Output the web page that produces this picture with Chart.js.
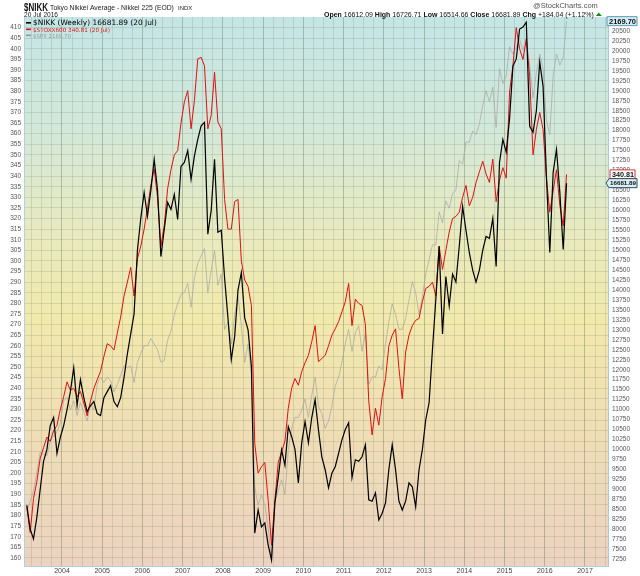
<!DOCTYPE html>
<html>
<head>
<meta charset="utf-8">
<script src="https://cdn.jsdelivr.net/npm/chart.js@4.4.0/dist/chart.umd.min.js"></script>
<style>
html, body { margin: 0; padding: 0; background: #fff; }
#wrap { width: 640px; height: 576px; position: relative; }
</style>
</head>
<body>
<div id="wrap"><canvas id="chart" width="640" height="576"></canvas></div>
<script>
// Monthly samples, first month is Feb 2003, last is Jul 2016
const startYear = 2003;
const startMonth = 2;

const nikk = [
  8600, 8000, 7750, 8300, 9000, 9700, 10000, 10600, 10800, 9900, 10300,
  10600, 11000, 11450, 12050, 11100, 11750, 11300, 10950, 11100, 11200, 10900, 10850,
  11300, 11450, 11600, 11200, 11070, 11300, 11800, 12400, 12900, 13400, 15000, 15800,
  16450, 15850, 16500, 17280, 16500, 14840, 15520, 16200, 16025, 16400, 15770, 17105,
  17200, 17500, 16780, 17365, 17780, 18120, 18205, 15400, 16000, 17280, 15450, 15500,
  14300, 13300, 12250, 12830, 14000, 14440, 13300, 13000, 12080, 7900, 8480, 8054,
  8155, 7600, 7225, 8657, 9300, 9990, 9600, 10570, 10320, 10000, 9160, 10165,
  10700, 10165, 10800, 11250, 10490, 9815, 9490, 9035, 9400, 9565, 9900, 10240,
  10500, 10670, 9290, 9740, 9700, 9815, 10115, 8733, 8700, 8910, 8230, 8400,
  8657, 9500, 10115, 9490, 8700, 8480, 8700, 9160, 9060, 8557, 9490, 10000,
  10745, 11170, 12500, 13760, 15095, 12900, 14340, 13600, 14400, 14200, 15100, 16100,
  15500, 14940, 14500, 14200, 14500, 15000, 15345, 15300, 15800, 14590, 17200, 17780,
  17460, 18300, 19620, 19800, 20550, 20600, 20720, 18110, 17960, 18500, 19720, 19110,
  16850, 14940, 16950, 17530, 16450, 15020, 16681.89
];

const stoxx = [
  184, 172, 188, 196, 207, 212, 217, 215, 220, 222.5, 230,
  236, 243, 239, 240, 236, 238.5, 233, 227, 234, 239.9, 244, 248,
  255, 261, 260, 258, 266, 273.6, 283.5, 290, 297, 283.5, 301, 307,
  315, 325, 335.5, 343.4, 330, 307, 316.6, 334, 343, 350, 352, 365,
  375, 380.3, 362.3, 375.6, 395.3, 396, 392, 362.3, 368.6, 389, 365.5, 362.3,
  329, 315, 315, 328, 329, 300, 291, 288, 279, 214, 200, 203,
  205, 187, 166, 187, 205, 210, 215, 230.6, 240, 244.6, 241.4, 247.8,
  252, 255.5, 262, 269.5, 252.5, 254, 255.5, 260, 265, 268, 271.4, 276,
  280.8, 289.4, 269.5, 282, 280, 279, 270, 234, 218, 230.6, 222.6, 236,
  244.6, 260, 265, 268, 249.4, 235, 257, 265, 269.5, 272, 272.9, 280.8,
  287, 288, 290, 283.6, 307, 296, 305, 313.6, 320, 321, 323, 330,
  335.6, 326, 330, 337, 342, 347, 341, 337, 348, 328, 338, 344,
  339, 379.6, 392, 410, 400, 395, 404.7, 387, 350, 362, 370, 362,
  339, 323, 333, 343, 326, 316.6, 340.81
];

const spx = [
  835, 860, 890, 940, 995, 990, 985, 1025, 1040, 1050, 1075,
  1135, 1145, 1110, 1135, 1095, 1130, 1105, 1080, 1125, 1110, 1180, 1200,
  1185, 1200, 1190, 1160, 1180, 1205, 1230, 1225, 1230, 1185, 1240, 1265,
  1285, 1285, 1305, 1290, 1275, 1240, 1245, 1300, 1325, 1370, 1400, 1425,
  1430, 1455, 1390, 1470, 1510, 1530, 1550, 1430, 1490, 1545, 1450, 1480,
  1330, 1350, 1290, 1370, 1420, 1340, 1240, 1290, 1210, 900, 850, 880,
  850, 790, 700, 860, 890, 920, 880, 1000, 1060, 1090, 1090, 1110,
  1140, 1090, 1150, 1200, 1120, 1100, 1060, 1080, 1120, 1175, 1200, 1240,
  1290, 1330, 1270, 1320, 1340, 1270, 1320, 1180, 1200, 1200, 1230, 1220,
  1290, 1350, 1400, 1370, 1330, 1330, 1360, 1410, 1460, 1430, 1370, 1420,
  1480, 1520, 1560, 1560, 1650, 1620, 1680, 1660, 1700, 1710, 1790, 1780,
  1840, 1840, 1870, 1860, 1890, 1940, 1980, 1950, 1990, 1880, 2040, 2000,
  2020, 2100, 2080, 2100, 2120, 2090, 2120, 2050, 1960, 2030, 2080, 2040,
  1900, 1860, 2020, 2080, 2050, 2070, 2169.70
];

// axis tick values
const leftTicks = [];
for (let v = 160; v <= 410; v += 5) leftTicks.push(v);
const rightTicks = [];
for (let v = 7250; v <= 20500; v += 250) rightTicks.push(v);

// decimal year of the middle of each month
function monthX(i) {
  return startYear + (startMonth - 1 + i + 0.5) / 12;
}
function toPoints(arr) {
  return arr.map((v, i) => ({ x: monthX(i), y: v }));
}

const xMin = 2003.0555, xMax = 2017.572;

const bgPlugin = {
  id: 'bg',
  beforeDraw(chart) {
    const { ctx, chartArea: a } = chart;
    ctx.save();
    ctx.fillStyle = '#fff';
    ctx.fillRect(0, 0, chart.width, chart.height);
    const g = ctx.createLinearGradient(0, a.top, 0, a.bottom);
    g.addColorStop(0, 'rgb(196,229,230)');
    g.addColorStop(0.2, 'rgb(210,232,218)');
    g.addColorStop(0.4, 'rgb(233,234,190)');
    g.addColorStop(0.55, 'rgb(242,233,172)');
    g.addColorStop(0.75, 'rgb(240,222,181)');
    g.addColorStop(1, 'rgb(236,210,193)');
    ctx.fillStyle = g;
    ctx.fillRect(a.left, a.top, a.right - a.left, a.bottom - a.top);
    ctx.restore();
  }
};

function fitText(ctx, text, x, y, width, weight, family, color) {
  ctx.font = weight + ' 10px ' + family;
  const w = ctx.measureText(text).width;
  const size = 10 * width / w;
  ctx.font = weight + ' ' + size.toFixed(2) + 'px ' + family;
  ctx.fillStyle = color;
  ctx.fillText(text, x, y);
}

// text at a fixed size, squeezed sideways to a given width
function squeezeText(ctx, text, x, y, width, font, color) {
  ctx.save();
  ctx.font = font;
  const w = ctx.measureText(text).width;
  ctx.translate(x, y);
  ctx.scale(width / w, 1);
  ctx.fillStyle = color;
  ctx.fillText(text, 0, 0);
  ctx.restore();
}

function valueBox(ctx, text, x, y, w, bg, border, arrow) {
  ctx.save();
  ctx.beginPath();
  if (arrow) {
    ctx.moveTo(x, y);
    ctx.lineTo(x + 3, y - 4.5);
  } else {
    ctx.moveTo(x, y - 4.5);
  }
  ctx.lineTo(x + w, y - 4.5);
  ctx.lineTo(x + w, y + 4.5);
  ctx.lineTo(arrow ? x + 3 : x, y + 4.5);
  ctx.closePath();
  ctx.fillStyle = bg;
  ctx.fill();
  ctx.strokeStyle = border;
  ctx.lineWidth = 1;
  ctx.stroke();
  ctx.textBaseline = 'middle';
  ctx.textAlign = 'left';
  fitText(ctx, text, x + (arrow ? 4 : 2), y + 0.5, w - (arrow ? 5 : 3), 'bold', '"Liberation Sans"', '#111');
  ctx.restore();
}

const textPlugin = {
  id: 'texts',
  afterDraw(chart) {
    const ctx = chart.ctx;
    ctx.save();
    ctx.textBaseline = 'alphabetic';
    ctx.textAlign = 'left';
    // title
    squeezeText(ctx, '$NIKK', 24, 10.5, 24, 'bold 10.5px "Liberation Sans"', '#111');
    fitText(ctx, 'Tokyo Nikkei Average - Nikkei 225 (EOD)', 50, 9.5, 124, 'normal', '"Liberation Sans"', '#222');
    ctx.font = '6px "Liberation Sans"';
    ctx.fillText('INDX', 178, 9.5);
    fitText(ctx, '20 Jul 2016', 24, 17, 34, 'normal', '"Liberation Sans"', '#222');
    fitText(ctx, '@StockCharts.com', 533, 8, 65, 'normal', '"Liberation Sans"', '#555');

    // OHLC line
    const parts = [
      ['Open ', 'bold'], ['16612.09 ', 'normal'], ['High ', 'bold'], ['16726.71 ', 'normal'],
      ['Low ', 'bold'], ['16514.66 ', 'normal'], ['Close ', 'bold'], ['16681.89 ', 'normal'],
      ['Chg ', 'bold'], ['+184.04 (+1.12%)', 'normal']
    ];
    let total = 0;
    parts.forEach(p => { ctx.font = p[1] + ' 10px "Liberation Sans"'; total += ctx.measureText(p[0]).width; });
    const size = 10 * 270 / total;
    let x = 324;
    parts.forEach(p => {
      ctx.font = p[1] + ' ' + size.toFixed(2) + 'px "Liberation Sans"';
      ctx.fillStyle = '#111';
      ctx.fillText(p[0], x, 17);
      x += ctx.measureText(p[0]).width;
    });
    ctx.fillStyle = '#1a8a1a';
    ctx.beginPath();
    ctx.moveTo(x + 2, 16);
    ctx.lineTo(x + 8, 16);
    ctx.lineTo(x + 5, 12.5);
    ctx.closePath();
    ctx.fill();

    // legend
    const legend = [
      ['$NIKK (Weekly) 16681.89 (20 Jul)', '#000', 124, 25],
      ['$STOXX600 340.81 (20 Jul)', '#d81818', 77, 31.5],
      ['$SPX 2169.70', '#999', 38, 37.5]
    ];
    legend.forEach(l => {
      ctx.fillStyle = l[1];
      ctx.fillRect(26, l[3] - 3, 5, 1.6);
      fitText(ctx, l[0], 33, l[3], l[2], 'normal', '"DejaVu Sans"', l[1]);
    });

    // last value markers on the right
    const yR = chart.scales.yR, yL = chart.scales.yL, yS = chart.scales.yS;
    const a = chart.chartArea;
    valueBox(ctx, '2169.70', a.right - 1, yS.getPixelForValue(spx[spx.length - 1]), 30, '#d4edf5', '#5b9ab8', false);
    valueBox(ctx, '340.81', a.right + 2, yL.getPixelForValue(stoxx[stoxx.length - 1]), 25, '#fff', '#e03030', false);
    valueBox(ctx, '16681.89', a.right - 2, yR.getPixelForValue(nikk[nikk.length - 1]), 31, '#d8eff5', '#2a4a60', true);
    ctx.restore();
  }
};

const gridCol = 'rgba(120,135,110,0.22)';
const yearCol = 'rgba(110,125,95,0.42)';

new Chart(document.getElementById('chart'), {
  type: 'line',
  data: {
    datasets: [
      { label: '$NIKK', data: toPoints(nikk), yAxisID: 'yR', borderColor: '#000', borderWidth: 1.2, order: 1 },
      { label: '$STOXX600', data: toPoints(stoxx), yAxisID: 'yL', borderColor: '#e01010', borderWidth: 1, order: 2 },
      { label: '$SPX', data: toPoints(spx), yAxisID: 'yS', borderColor: 'rgba(165,165,165,0.7)', borderWidth: 1, order: 3 }
    ]
  },
  options: {
    responsive: false,
    animation: false,
    layout: { padding: { top: 17, left: 0, right: 0, bottom: 0 } },
    elements: { point: { radius: 0 }, line: { tension: 0, fill: false } },
    plugins: { legend: { display: false }, tooltip: { enabled: false } },
    scales: {
      x: {
        type: 'linear',
        min: xMin,
        max: xMax,
        afterBuildTicks(scale) {
          const t = [];
          for (let q = Math.ceil(xMin * 4); q <= Math.floor(xMax * 4); q++) t.push({ value: q / 4 });
          scale.ticks = t;
        },
        afterFit(scale) { scale.height = 10; },
        grid: {
          drawTicks: false,
          color: ctx => Number.isInteger(ctx.tick.value) ? yearCol : gridCol
        },
        border: { display: true, color: '#b5d0da' },
        ticks: {
          autoSkip: false,
          maxRotation: 0,
          padding: 1,
          color: '#444',
          font: { family: '"Liberation Sans"', size: 7 },
          callback: v => Number.isInteger(v) ? String(v) : ''
        }
      },
      yL: {
        type: 'linear',
        position: 'left',
        min: 156.2,
        max: 415,
        afterBuildTicks(scale) { scale.ticks = leftTicks.map(v => ({ value: v })); },
        afterFit(scale) { scale.width = 24; },
        grid: { drawTicks: false, color: gridCol },
        border: { display: true, color: '#b5d0da' },
        ticks: { autoSkip: false, padding: 3, color: '#555', font: { family: '"Liberation Sans"', size: 6.5 },
          callback: v => String(v) }
      },
      yR: {
        type: 'linear',
        position: 'right',
        min: 7074,
        max: 20852,
        afterBuildTicks(scale) { scale.ticks = rightTicks.map(v => ({ value: v })); },
        afterFit(scale) { scale.width = 32; },
        grid: { display: false, drawTicks: false },
        border: { display: true, color: '#a9cbd8' },
        ticks: { autoSkip: false, padding: 4, color: '#555', font: { family: '"Liberation Sans"', size: 6.5 },
          callback: v => String(v) }
      },
      yS: {
        type: 'linear',
        display: false,
        min: 685,
        max: 2181
      }
    }
  },
  plugins: [bgPlugin, textPlugin]
});
</script>
</body>
</html>
